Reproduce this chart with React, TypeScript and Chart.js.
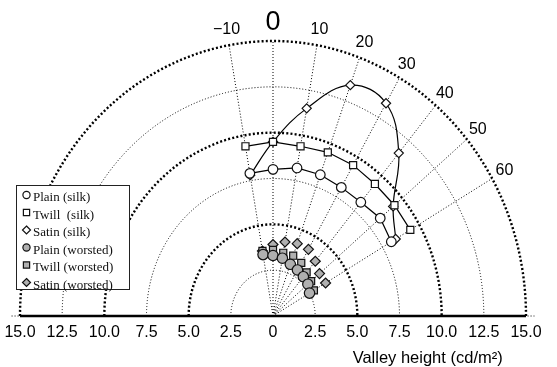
import React, { useEffect, useRef } from 'react';
import { Chart, registerables } from 'chart.js';

Chart.register(...registerables);

// Angle (degrees from vertical, clockwise) of every measurement
const angles = [-10, 0, 10, 20, 30, 40, 50, 60];

// Radius (valley height, cd/m²) per angle
const plainSilk = [7.9, 8.0, 8.2, 8.2, 8.1, 8.1, 8.3, 8.1];
const twillSilk = [9.4, 9.5, 9.4, 9.5, 9.5, 9.4, 9.4, 9.4];
const satinSilk = [7.8, 9.5, 11.5, 13.4, 13.4, 11.6, 9.3, 8.4];
const plainWorsted = [3.4, 3.3, 3.2, 3.0, 2.9, 2.8, 2.7, 2.5];
const twillWorsted = [3.6, 3.6, 3.5, 3.5, 3.35, 3.1, 2.95, 2.8];
const satinWorsted = [3.6, 3.9, 4.1, 4.2, 4.2, 3.9, 3.6, 3.6];

const seriesNames = [
  'Plain (silk)',
  'Twill  (silk)',
  'Satin (silk)',
  'Plain (worsted)',
  'Twill (worsted)',
  'Satin (worsted)',
];

// Grid
const ringRadii = [2.5, 5, 7.5, 10, 12.5, 15];
const boldRings = [5, 10, 15];
const spokeAngles = [-10, 0, 10, 20, 30, 40, 50, 60];
const angleLabels = ['\u221210', '0', '10', '20', '30', '40', '50', '60'];
const tickValues = [-15, -12.5, -10, -7.5, -5, -2.5, 0, 2.5, 5, 7.5, 10, 12.5, 15];
const tickLabels = ['15.0', '12.5', '10.0', '7.5', '5.0', '2.5', '0', '2.5', '5.0', '7.5', '10.0', '12.5', '15.0'];
const axisTitle = 'Valley height (cd/m\u00B2)';
const maxRadius = 15;

const toXY = (rs: number[]) =>
  rs.map((r, i) => {
    const a = (angles[i] * Math.PI) / 180;
    return { x: r * Math.sin(a), y: r * Math.cos(a) };
  });

const SILK_FILL = '#ffffff';
const WORSTED_FILL = '#b0b0b0';

function drawMarker(ctx: CanvasRenderingContext2D, style: string, x: number, y: number, r: number, fill: string) {
  ctx.save();
  ctx.setLineDash([]);
  ctx.lineWidth = 1.2;
  ctx.strokeStyle = '#111';
  ctx.fillStyle = fill;
  ctx.beginPath();
  if (style === 'circle') {
    ctx.arc(x, y, r, 0, Math.PI * 2);
  } else if (style === 'rect') {
    const s = r * Math.SQRT1_2;
    ctx.rect(x - s, y - s, 2 * s, 2 * s);
  } else {
    ctx.moveTo(x, y - r);
    ctx.lineTo(x + r, y);
    ctx.lineTo(x, y + r);
    ctx.lineTo(x - r, y);
    ctx.closePath();
  }
  ctx.fill();
  ctx.stroke();
  ctx.restore();
}

const polarGrid = {
  id: 'polarGrid',
  beforeDatasetsDraw(chart: any) {
    const { ctx } = chart;
    const xs = chart.scales.x;
    const ys = chart.scales.y;
    const cx = xs.getPixelForValue(0);
    const cy = ys.getPixelForValue(0);
    ctx.save();
    ctx.strokeStyle = '#000';
    // rings
    ringRadii.forEach((r) => {
      const rx = xs.getPixelForValue(r) - cx;
      const ry = cy - ys.getPixelForValue(r);
      const bold = boldRings.includes(r);
      ctx.lineWidth = bold ? 2.4 : 1;
      ctx.setLineDash(bold ? [2, 2.2] : [1, 2]);
      ctx.beginPath();
      ctx.ellipse(cx, cy, rx, ry, 0, Math.PI, Math.PI * 2);
      ctx.stroke();
    });
    // spokes
    ctx.lineWidth = 1;
    ctx.setLineDash([1, 2]);
    spokeAngles.forEach((deg) => {
      const a = (deg * Math.PI) / 180;
      ctx.beginPath();
      ctx.moveTo(cx, cy);
      ctx.lineTo(xs.getPixelForValue(maxRadius * Math.sin(a)), ys.getPixelForValue(maxRadius * Math.cos(a)));
      ctx.stroke();
    });
    // baseline
    ctx.setLineDash([1, 2]);
    ctx.lineWidth = 1;
    ctx.beginPath();
    ctx.moveTo(xs.getPixelForValue(-15.5), cy);
    ctx.lineTo(xs.getPixelForValue(15.5), cy);
    ctx.stroke();
    ctx.setLineDash([]);
    ctx.lineWidth = 2.6;
    ctx.beginPath();
    ctx.moveTo(xs.getPixelForValue(-maxRadius), cy);
    ctx.lineTo(xs.getPixelForValue(maxRadius), cy);
    ctx.stroke();
    ctx.restore();
  },
  afterDraw(chart: any) {
    const { ctx } = chart;
    const xs = chart.scales.x;
    const ys = chart.scales.y;
    const cy = ys.getPixelForValue(0);
    ctx.save();
    ctx.fillStyle = '#000';
    ctx.textAlign = 'center';
    ctx.textBaseline = 'middle';
    // radial tick labels along the baseline
    ctx.font = '16px "Liberation Sans", Arial, sans-serif';
    tickValues.forEach((v, i) => {
      ctx.fillText(tickLabels[i], xs.getPixelForValue(v), cy + 17);
    });
    // axis title
    ctx.font = '16.5px "Liberation Sans", Arial, sans-serif';
    ctx.fillText(axisTitle, xs.getPixelForValue(9.17), cy + 42);
    // angle labels
    spokeAngles.forEach((deg, i) => {
      const a = (deg * Math.PI) / 180;
      const rr = deg === 0 ? 16.0 : 15.85;
      ctx.font = deg === 0 ? '27px "Liberation Sans", Arial, sans-serif' : '16px "Liberation Sans", Arial, sans-serif';
      ctx.fillText(angleLabels[i], xs.getPixelForValue(rr * Math.sin(a)), ys.getPixelForValue(rr * Math.cos(a)));
    });
    // legend
    const bx = 16, by = 185, bw = 113, bh = 104;
    ctx.fillStyle = '#fff';
    ctx.fillRect(bx, by, bw, bh);
    ctx.strokeStyle = '#222';
    ctx.lineWidth = 1;
    ctx.setLineDash([]);
    ctx.strokeRect(bx + 0.5, by + 0.5, bw, bh);
    ctx.textAlign = 'left';
    ctx.font = '13px "Liberation Serif", "Times New Roman", serif';
    chart.data.datasets.forEach((ds: any, i: number) => {
      const yy = by + 12 + i * 17.5;
      const st = ds.pointStyle;
      const rr = st === 'circle' ? 3.6 : st === 'rect' ? 4.4 : 4;
      drawMarker(ctx, st, bx + 10.5, yy - 2, rr, ds.pointBackgroundColor);
      ctx.fillStyle = '#111';
      ctx.fillText(ds.label, bx + 17, yy + 1);
    });
    ctx.restore();
  },
};

function makeDataset(label: string, rs: number[], style: string, fill: string, line: boolean, tension: number, radius: number) {
  return {
    label,
    data: toXY(rs),
    pointStyle: style,
    pointRadius: radius,
    pointHoverRadius: radius,
    pointBackgroundColor: fill,
    pointBorderColor: '#111',
    pointBorderWidth: 1.2,
    showLine: line,
    borderColor: '#000',
    borderWidth: 1.2,
    tension,
    fill: false,
    clip: false,
  };
}

export default function App() {
  const ref = useRef<HTMLCanvasElement | null>(null);
  useEffect(() => {
    if (!ref.current) return;
    const chart = new Chart(ref.current, {
      type: 'scatter',
      data: {
        datasets: [
          makeDataset(seriesNames[0], plainSilk, 'circle', SILK_FILL, true, 0, 4.8),
          makeDataset(seriesNames[1], twillSilk, 'rect', SILK_FILL, true, 0, 5),
          makeDataset(seriesNames[2], satinSilk, 'rectRot', SILK_FILL, true, 0.4, 4.6),
          makeDataset(seriesNames[3], plainWorsted, 'circle', WORSTED_FILL, false, 0, 5.2),
          makeDataset(seriesNames[4], twillWorsted, 'rect', WORSTED_FILL, false, 0, 5),
          makeDataset(seriesNames[5], satinWorsted, 'rectRot', WORSTED_FILL, false, 0, 5),
        ] as any,
      },
      options: {
        animation: false,
        responsive: false,
        devicePixelRatio: 1,
        layout: { padding: { left: 20, right: 31, top: 41, bottom: 51 } },
        scales: {
          x: { type: 'linear', min: -15, max: 15, display: false },
          y: { type: 'linear', min: 0, max: 15, display: false },
        },
        plugins: { legend: { display: false }, tooltip: { enabled: false } },
      } as any,
      plugins: [polarGrid as any],
    });
    return () => chart.destroy();
  }, []);
  return (
    <div style={{ position: 'fixed', left: 0, top: 0, width: 557, height: 367, background: '#fff' }}>
      <canvas ref={ref} width={557} height={367} style={{ display: 'block', width: 557, height: 367 }} />
    </div>
  );
}
